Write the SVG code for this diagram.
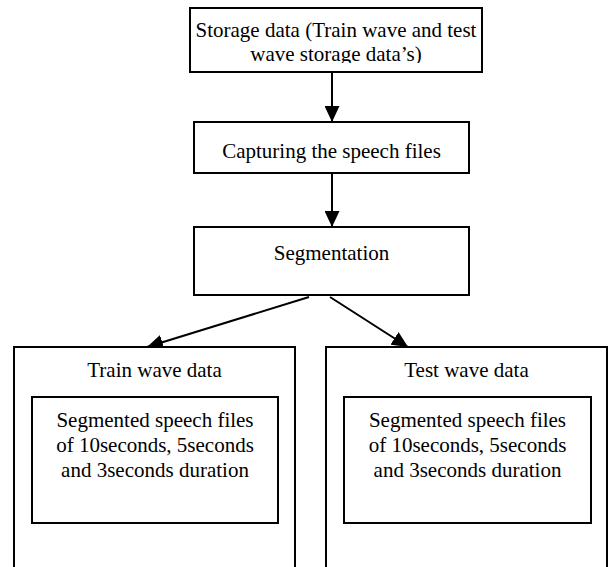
<svg xmlns="http://www.w3.org/2000/svg" width="613" height="567" viewBox="0 0 613 567">
  <style>
    .box { fill: #ffffff; stroke: #000000; stroke-width: 2; }
    .lbl { font-family: "Liberation Serif", "Times New Roman", serif; font-size: 21px; fill: #000000; text-anchor: middle; }
    .edge { stroke: #000000; stroke-width: 2; fill: none; }
  </style>
  <defs>
    <marker id="arrowBig" viewBox="0 0 10 10" refX="10" refY="5" markerWidth="16" markerHeight="15" markerUnits="userSpaceOnUse" orient="auto" preserveAspectRatio="none">
      <path d="M0,0 L10,5 L0,10 Z" fill="#000000"/>
    </marker>
    <clipPath id="storageClip">
      <rect x="190" y="8" width="292" height="55"/>
    </clipPath>
  </defs>

  <rect x="0" y="0" width="613" height="567" fill="#ffffff"/>

  <!-- connectors -->
  <g id="connectors">
    <line class="edge" x1="332" y1="72" x2="332" y2="122" marker-end="url(#arrowBig)"/>
    <line class="edge" x1="332" y1="173" x2="332" y2="227" marker-end="url(#arrowBig)"/>
    <line class="edge" x1="309" y1="297" x2="147" y2="347" marker-end="url(#arrowBig)"/>
    <line class="edge" x1="330" y1="297" x2="408" y2="347" marker-end="url(#arrowBig)"/>
  </g>

  <!-- storage -->
  <g id="storage">
    <rect class="box" x="190" y="8" width="292" height="64"/>
    <g clip-path="url(#storageClip)">
      <text class="lbl" x="336" y="37">Storage data (Train wave and test</text>
      <text class="lbl" x="336" y="61">wave storage data’s)</text>
    </g>
  </g>

  <!-- capture -->
  <g id="capture">
    <rect class="box" x="194" y="122" width="275" height="51"/>
    <text class="lbl" x="331.5" y="158">Capturing the speech files</text>
  </g>

  <!-- segmentation -->
  <g id="segmentation">
    <rect class="box" x="194" y="227" width="275" height="68"/>
    <text class="lbl" x="331.5" y="260">Segmentation</text>
  </g>

  <!-- train -->
  <g id="train">
    <rect class="box" x="14" y="347" width="281" height="230"/>
    <text class="lbl" x="154.5" y="377">Train wave data</text>
    <rect class="box" x="32" y="397" width="246" height="126"/>
    <text class="lbl" x="155" y="427">Segmented speech files</text>
    <text class="lbl" x="155" y="452">of 10seconds, 5seconds</text>
    <text class="lbl" x="155" y="477">and 3seconds duration</text>
  </g>

  <!-- test -->
  <g id="test">
    <rect class="box" x="326" y="347" width="281" height="230"/>
    <text class="lbl" x="466.5" y="377">Test wave data</text>
    <rect class="box" x="344" y="397" width="247" height="126"/>
    <text class="lbl" x="467.5" y="427">Segmented speech files</text>
    <text class="lbl" x="467.5" y="452">of 10seconds, 5seconds</text>
    <text class="lbl" x="467.5" y="477">and 3seconds duration</text>
  </g>
</svg>
